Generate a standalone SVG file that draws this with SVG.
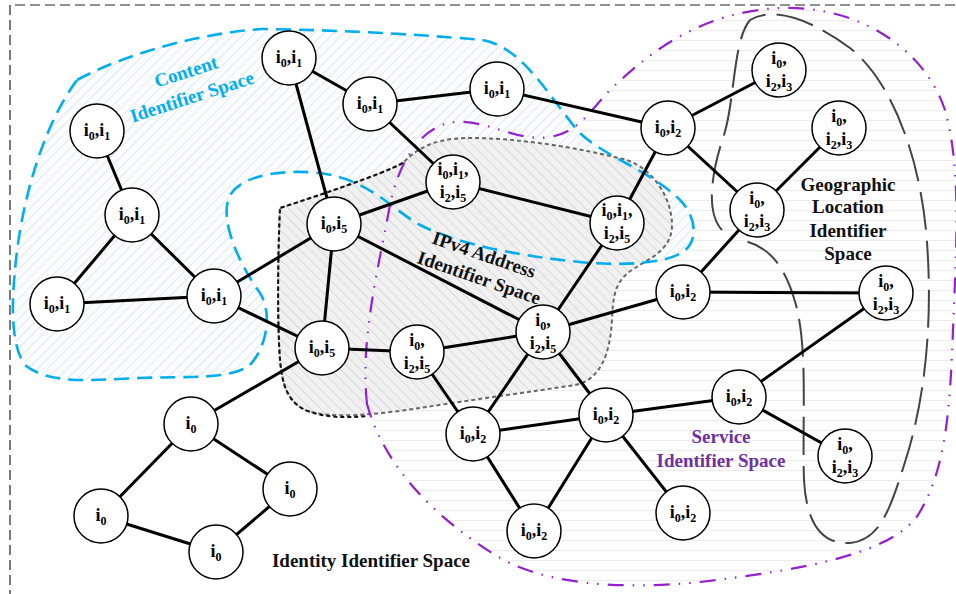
<svg xmlns="http://www.w3.org/2000/svg" width="956" height="594" viewBox="0 0 956 594">
<style>
.e{stroke:#000;stroke-width:3;stroke-linecap:round}
.n circle{fill:#fff;stroke:#000;stroke-width:1.5}
.n text{font-family:"Liberation Serif",serif;font-weight:bold;font-size:18px;text-anchor:middle;fill:#000}
.s{font-size:12px}
.lbl{font-family:"Liberation Serif",serif;font-weight:bold;font-size:19px;text-anchor:middle}
</style>
<defs>
<pattern id="hc" patternUnits="userSpaceOnUse" width="7" height="7" patternTransform="rotate(45)">
<rect width="7" height="7" fill="#fbfdfe"/>
<line x1="0" y1="0" x2="0" y2="7" stroke="#dae3ea" stroke-width="1.6"/>
</pattern>
<pattern id="hi" patternUnits="userSpaceOnUse" width="7" height="7" patternTransform="rotate(-45)">
<rect width="7" height="7" fill="#f1f1f1"/>
<line x1="0" y1="0" x2="0" y2="7" stroke="#d3d3d3" stroke-width="1.5"/>
</pattern>
<pattern id="hs" patternUnits="userSpaceOnUse" width="10" height="10">
<rect width="10" height="10" fill="#fff"/>
<line x1="0" y1="0.5" x2="10" y2="0.5" stroke="#ececec" stroke-width="1"/>
</pattern>
</defs>
<rect width="956" height="594" fill="#fff"/>
<path d="M10,600 L10,5 L960,5" fill="none" stroke="#222" stroke-width="1.2" stroke-dasharray="10,5"/>

<g id="regions">
<path id="service-fill" d="M367,404 C360,340 378,270 390,205 C398,165 420,125 455,122 C490,120 515,142 550,137 C580,132 592,108 610,90 C650,52 700,12 780,8 C860,5 925,50 945,110 C962,170 956,250 953,330 C950,410 946,470 918,515 C890,555 800,570 700,582 C620,590 540,585 492,553 C440,520 385,470 367,404 Z" fill="url(#hs)"/>
<path id="content-fill" d="M77,80 C110,62 180,35 262,29 C350,30 440,36 482,40 C520,46 545,90 577,130 C600,155 650,170 680,200 C695,215 700,240 683,252 C665,264 620,266 580,262 C520,256 460,245 420,225 C390,208 370,180 320,173 C290,170 245,172 230,195 C218,220 240,265 260,293 C272,312 268,345 250,365 C230,380 190,376 140,378 C90,380 50,385 25,365 C10,345 12,300 15,270 C20,210 40,130 77,80 Z" fill="url(#hc)"/>
<path id="ipv4-fill" d="M280,208 C320,195 380,175 403,163 C420,145 440,138 470,138 C520,138 580,148 627,160 C655,170 672,200 672,225 C672,250 650,258 635,268 C615,280 613,295 612,320 C610,355 600,380 575,385 C530,392 470,400 420,408 C380,414 330,420 305,410 C285,400 282,380 280,360 C277,320 278,250 280,208 Z" fill="url(#hi)"/>
<path d="M280,208 C320,195 380,175 403,163 C420,145 440,138 470,138 C520,138 580,148 627,160 C655,170 672,200 672,225 C672,250 650,258 635,268 C615,280 613,295 612,320 C610,355 600,380 575,385 C530,392 470,400 420,408 C380,414 330,420 305,410 C285,400 282,380 280,360 C277,320 278,250 280,208 Z" fill="none" stroke="#666" stroke-width="2" stroke-dasharray="4,3"/>
<path d="M403,163 C380,175 320,195 280,208 C278,250 277,320 280,360 C282,380 285,400 305,410 C325,418 345,418 367,416" fill="none" stroke="#111" stroke-width="2" stroke-dasharray="4,3"/>
<path d="M77,80 C110,62 180,35 262,29 C350,30 440,36 482,40 C520,46 545,90 577,130 C600,155 650,170 680,200 C695,215 700,240 683,252 C665,264 620,266 580,262 C520,256 460,245 420,225 C390,208 370,180 320,173 C290,170 245,172 230,195 C218,220 240,265 260,293 C272,312 268,345 250,365 C230,380 190,376 140,378 C90,380 50,385 25,365 C10,345 12,300 15,270 C20,210 40,130 77,80 Z" fill="none" stroke="#00AEEF" stroke-width="2.6" stroke-dasharray="15,8"/>
<path d="M367,404 C360,340 378,270 390,205 C398,165 420,125 455,122 C490,120 515,142 550,137 C580,132 592,108 610,90 C650,52 700,12 780,8 C860,5 925,50 945,110 C962,170 956,250 953,330 C950,410 946,470 918,515 C890,555 800,570 700,582 C620,590 540,585 492,553 C440,520 385,470 367,404 Z" fill="none" stroke="#9420D0" stroke-width="2.2" stroke-dasharray="16,9,1.5,9,1.5,9"/>
<path d="M722,230 C705,212 712,170 724,135 C735,100 733,40 750,20 C775,5 815,22 850,48 C890,80 918,150 926,230 C934,320 925,400 905,462 C890,510 880,540 850,543 C820,545 806,520 804,480 C802,420 808,350 796,305 C786,268 770,245 740,240" fill="none" stroke="#444" stroke-width="2" stroke-dasharray="38,11"/>
</g>

<g id="connectors">
<line class="e" x1="97" y1="131" x2="132" y2="215"/>
<line class="e" x1="132" y1="215" x2="57" y2="304"/>
<line class="e" x1="132" y1="215" x2="214" y2="296"/>
<line class="e" x1="57" y1="304" x2="214" y2="296"/>
<line class="e" x1="214" y1="296" x2="334" y2="224"/>
<line class="e" x1="289" y1="58" x2="334" y2="224"/>
<line class="e" x1="289" y1="58" x2="370" y2="104"/>
<line class="e" x1="370" y1="104" x2="497" y2="89"/>
<line class="e" x1="370" y1="104" x2="453" y2="182"/>
<line class="e" x1="334" y1="224" x2="453" y2="182"/>
<line class="e" x1="334" y1="224" x2="322" y2="348"/>
<line class="e" x1="334" y1="224" x2="543" y2="332"/>
<line class="e" x1="214" y1="296" x2="322" y2="348"/>
<line class="e" x1="322" y1="348" x2="191" y2="424"/>
<line class="e" x1="322" y1="348" x2="417" y2="352"/>
<line class="e" x1="417" y1="352" x2="543" y2="332"/>
<line class="e" x1="417" y1="352" x2="473" y2="434"/>
<line class="e" x1="191" y1="424" x2="290" y2="489"/>
<line class="e" x1="191" y1="424" x2="101" y2="516"/>
<line class="e" x1="101" y1="516" x2="216" y2="552"/>
<line class="e" x1="216" y1="552" x2="290" y2="489"/>
<line class="e" x1="497" y1="89" x2="668" y2="128"/>
<line class="e" x1="453" y1="182" x2="617" y2="223"/>
<line class="e" x1="668" y1="128" x2="617" y2="223"/>
<line class="e" x1="668" y1="128" x2="779" y2="70"/>
<line class="e" x1="668" y1="128" x2="757" y2="210"/>
<line class="e" x1="757" y1="210" x2="839" y2="128"/>
<line class="e" x1="757" y1="210" x2="683" y2="292"/>
<line class="e" x1="683" y1="292" x2="886" y2="293"/>
<line class="e" x1="617" y1="223" x2="543" y2="332"/>
<line class="e" x1="543" y1="332" x2="683" y2="292"/>
<line class="e" x1="543" y1="332" x2="473" y2="434"/>
<line class="e" x1="543" y1="332" x2="606" y2="415"/>
<line class="e" x1="473" y1="434" x2="606" y2="415"/>
<line class="e" x1="473" y1="434" x2="534" y2="531"/>
<line class="e" x1="606" y1="415" x2="534" y2="531"/>
<line class="e" x1="606" y1="415" x2="683" y2="513"/>
<line class="e" x1="606" y1="415" x2="739" y2="397"/>
<line class="e" x1="739" y1="397" x2="886" y2="293"/>
<line class="e" x1="739" y1="397" x2="845" y2="456"/>
</g>

<g id="nA" class="n"><circle cx="97" cy="131" r="27"/><text x="97" y="136">i<tspan class="s" dy="4">0</tspan><tspan dy="-4">,i</tspan><tspan class="s" dy="4">1</tspan></text></g>
<g id="nB" class="n"><circle cx="132" cy="215" r="27"/><text x="132" y="220">i<tspan class="s" dy="4">0</tspan><tspan dy="-4">,i</tspan><tspan class="s" dy="4">1</tspan></text></g>
<g id="nC" class="n"><circle cx="289" cy="58" r="27"/><text x="289" y="63">i<tspan class="s" dy="4">0</tspan><tspan dy="-4">,i</tspan><tspan class="s" dy="4">1</tspan></text></g>
<g id="nD" class="n"><circle cx="370" cy="104" r="27"/><text x="370" y="109">i<tspan class="s" dy="4">0</tspan><tspan dy="-4">,i</tspan><tspan class="s" dy="4">1</tspan></text></g>
<g id="nE" class="n"><circle cx="453" cy="182" r="27"/><text x="453" y="175">i<tspan class="s" dy="4">0</tspan><tspan dy="-4">,i</tspan><tspan class="s" dy="4">1</tspan><tspan dy="-4">,</tspan></text><text x="453" y="198">i<tspan class="s" dy="4">2</tspan><tspan dy="-4">,i</tspan><tspan class="s" dy="4">5</tspan></text></g>
<g id="nF" class="n"><circle cx="334" cy="224" r="27"/><text x="334" y="229">i<tspan class="s" dy="4">0</tspan><tspan dy="-4">,i</tspan><tspan class="s" dy="4">5</tspan></text></g>
<g id="nG" class="n"><circle cx="214" cy="296" r="27"/><text x="214" y="301">i<tspan class="s" dy="4">0</tspan><tspan dy="-4">,i</tspan><tspan class="s" dy="4">1</tspan></text></g>
<g id="nH" class="n"><circle cx="57" cy="304" r="27"/><text x="57" y="309">i<tspan class="s" dy="4">0</tspan><tspan dy="-4">,i</tspan><tspan class="s" dy="4">1</tspan></text></g>
<g id="nI" class="n"><circle cx="497" cy="89" r="27"/><text x="497" y="94">i<tspan class="s" dy="4">0</tspan><tspan dy="-4">,i</tspan><tspan class="s" dy="4">1</tspan></text></g>
<g id="nJ" class="n"><circle cx="668" cy="128" r="27"/><text x="668" y="133">i<tspan class="s" dy="4">0</tspan><tspan dy="-4">,i</tspan><tspan class="s" dy="4">2</tspan></text></g>
<g id="nK" class="n"><circle cx="779" cy="70" r="27"/><text x="779" y="64">i<tspan class="s" dy="4">0</tspan><tspan dy="-4">,</tspan></text><text x="779" y="87">i<tspan class="s" dy="4">2</tspan><tspan dy="-4">,i</tspan><tspan class="s" dy="4">3</tspan></text></g>
<g id="nL" class="n"><circle cx="839" cy="128" r="27"/><text x="839" y="122">i<tspan class="s" dy="4">0</tspan><tspan dy="-4">,</tspan></text><text x="839" y="145">i<tspan class="s" dy="4">2</tspan><tspan dy="-4">,i</tspan><tspan class="s" dy="4">3</tspan></text></g>
<g id="nM" class="n"><circle cx="757" cy="210" r="27"/><text x="757" y="204">i<tspan class="s" dy="4">0</tspan><tspan dy="-4">,</tspan></text><text x="757" y="227">i<tspan class="s" dy="4">2</tspan><tspan dy="-4">,i</tspan><tspan class="s" dy="4">3</tspan></text></g>
<g id="nN" class="n"><circle cx="617" cy="223" r="27"/><text x="617" y="216">i<tspan class="s" dy="4">0</tspan><tspan dy="-4">,i</tspan><tspan class="s" dy="4">1</tspan><tspan dy="-4">,</tspan></text><text x="617" y="239">i<tspan class="s" dy="4">2</tspan><tspan dy="-4">,i</tspan><tspan class="s" dy="4">5</tspan></text></g>
<g id="nO" class="n"><circle cx="683" cy="292" r="27"/><text x="683" y="297">i<tspan class="s" dy="4">0</tspan><tspan dy="-4">,i</tspan><tspan class="s" dy="4">2</tspan></text></g>
<g id="nP" class="n"><circle cx="886" cy="293" r="27"/><text x="886" y="287">i<tspan class="s" dy="4">0</tspan><tspan dy="-4">,</tspan></text><text x="886" y="310">i<tspan class="s" dy="4">2</tspan><tspan dy="-4">,i</tspan><tspan class="s" dy="4">3</tspan></text></g>
<g id="nQ" class="n"><circle cx="322" cy="348" r="27"/><text x="322" y="353">i<tspan class="s" dy="4">0</tspan><tspan dy="-4">,i</tspan><tspan class="s" dy="4">5</tspan></text></g>
<g id="nR" class="n"><circle cx="417" cy="352" r="27"/><text x="417" y="346">i<tspan class="s" dy="4">0</tspan><tspan dy="-4">,</tspan></text><text x="417" y="369">i<tspan class="s" dy="4">2</tspan><tspan dy="-4">,i</tspan><tspan class="s" dy="4">5</tspan></text></g>
<g id="nS" class="n"><circle cx="191" cy="424" r="27"/><text x="191" y="429">i<tspan class="s" dy="4">0</tspan></text></g>
<g id="nT" class="n"><circle cx="290" cy="489" r="27"/><text x="290" y="494">i<tspan class="s" dy="4">0</tspan></text></g>
<g id="nU" class="n"><circle cx="101" cy="516" r="27"/><text x="101" y="521">i<tspan class="s" dy="4">0</tspan></text></g>
<g id="nV" class="n"><circle cx="216" cy="552" r="27"/><text x="216" y="557">i<tspan class="s" dy="4">0</tspan></text></g>
<g id="nW" class="n"><circle cx="473" cy="434" r="27"/><text x="473" y="439">i<tspan class="s" dy="4">0</tspan><tspan dy="-4">,i</tspan><tspan class="s" dy="4">2</tspan></text></g>
<g id="nX" class="n"><circle cx="543" cy="332" r="27"/><text x="543" y="326">i<tspan class="s" dy="4">0</tspan><tspan dy="-4">,</tspan></text><text x="543" y="349">i<tspan class="s" dy="4">2</tspan><tspan dy="-4">,i</tspan><tspan class="s" dy="4">5</tspan></text></g>
<g id="nY" class="n"><circle cx="606" cy="415" r="27"/><text x="606" y="420">i<tspan class="s" dy="4">0</tspan><tspan dy="-4">,i</tspan><tspan class="s" dy="4">2</tspan></text></g>
<g id="nZ" class="n"><circle cx="739" cy="397" r="27"/><text x="739" y="402">i<tspan class="s" dy="4">0</tspan><tspan dy="-4">,i</tspan><tspan class="s" dy="4">2</tspan></text></g>
<g id="nAA" class="n"><circle cx="845" cy="456" r="27"/><text x="845" y="450">i<tspan class="s" dy="4">0</tspan><tspan dy="-4">,</tspan></text><text x="845" y="473">i<tspan class="s" dy="4">2</tspan><tspan dy="-4">,i</tspan><tspan class="s" dy="4">3</tspan></text></g>
<g id="nAB" class="n"><circle cx="534" cy="531" r="27"/><text x="534" y="536">i<tspan class="s" dy="4">0</tspan><tspan dy="-4">,i</tspan><tspan class="s" dy="4">2</tspan></text></g>
<g id="nAC" class="n"><circle cx="683" cy="513" r="27"/><text x="683" y="518">i<tspan class="s" dy="4">0</tspan><tspan dy="-4">,i</tspan><tspan class="s" dy="4">2</tspan></text></g>

<g id="labels">
<text class="lbl" fill="#00AEEF" transform="translate(186,72) rotate(-18)" y="6">Content</text>
<text class="lbl" fill="#00AEEF" transform="translate(192,97) rotate(-18)" y="6">Identifier Space</text>
<text class="lbl" fill="#111" transform="translate(484,255) rotate(19)" y="6">IPv4 Address</text>
<text class="lbl" fill="#111" transform="translate(479,278) rotate(19)" y="6">Identifier Space</text>
<text class="lbl" fill="#111" x="848" y="191">Geographic</text>
<text class="lbl" fill="#111" x="848" y="213">Location</text>
<text class="lbl" fill="#111" x="848" y="237">Identifier</text>
<text class="lbl" fill="#111" x="848" y="260">Space</text>
<text class="lbl" fill="#7030A0" x="721" y="443">Service</text>
<text class="lbl" fill="#7030A0" x="721" y="467">Identifier Space</text>
<text class="lbl" fill="#111" x="371" y="567">Identity Identifier Space</text>
</g>
</svg>
